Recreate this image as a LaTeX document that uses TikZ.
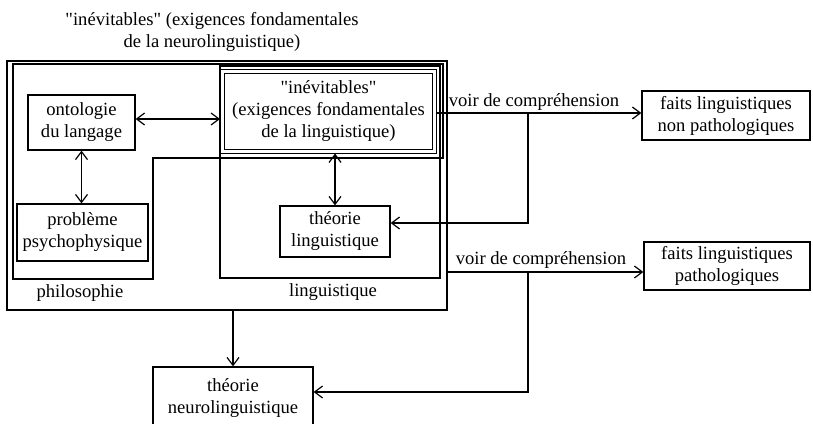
\documentclass[tikz,border=0pt]{standalone}
\usepackage{fontspec}
\setmainfont{Liberation Serif}
\usetikzlibrary{arrows.meta}
\begin{document}
\begin{tikzpicture}[x=1pt,y=-1pt,line width=1.2pt,
	>={Straight Barb[length=8pt,width=12pt]},
	every node/.style={font=\fontsize{18.6}{22}\selectfont,align=center},
	box/.style={draw,inner sep=0pt}]
	\useasboundingbox (0,0) rectangle (813,423);

	\node (titre) at (212,32) {\textquotedbl inévitables\textquotedbl{} (exigences fondamentales\\de la neurolinguistique)};

	\node[box,minimum width=440pt,minimum height=249pt] (neuro) at (227,185.5) {};
	\draw (13,64) -- (443,64) -- (443,158) -- (153,158) -- (153,279) -- (13,279) -- cycle;
	\draw (220,66) rectangle (440,278);
	\node (philo) at (80,293) {philosophie};
	\node (ling) at (333,292) {linguistique};

	\node[box,minimum width=107pt,minimum height=55pt] (onto) at (81.5,122.5) {ontologie\\du langage};
	\node[box,minimum width=131pt,minimum height=57pt] (psycho) at (82.5,232.5) {problème\\psychophysique};
	\node[box,double,double distance=3pt,line width=1pt,outer sep=2.5pt,minimum width=212pt,minimum height=80pt] (inev) at (328.5,111) {\textquotedbl inévitables\textquotedbl\\(exigences fondamentales\\de la linguistique)};
	\node[box,minimum width=110pt,minimum height=51pt] (thling) at (335,231.5) {théorie\\linguistique};
	\node[box,minimum width=168pt,minimum height=49pt] (fnp) at (726,115.5) {faits linguistiques\\non pathologiques};
	\node[box,minimum width=166pt,minimum height=48pt] (fp) at (727,266) {faits linguistiques\\pathologiques};
	\node[box,minimum width=160pt,minimum height=62pt] (thneuro) at (233,398) {théorie\\neurolinguistique};

	\coordinate (v1) at (528,113);
	\coordinate (v2) at (528,272);
	\node (lv1) at (534,102) {voir de compréhension};
	\node (lv2) at (541,260) {voir de compréhension};

	\draw[<->] ([yshift=3.5pt]onto.east) -- ([yshift=3.5pt]onto.east -| inev.west);
	\draw[<->] (onto.south) -- (onto.south |- psycho.north);
	\draw[<->] (thling.north |- inev.south) -- (thling.north);
	\draw[->] (inev.east |- v1) -- (fnp.west |- v1);
	\draw[->] (v1) |- ([yshift=8.5pt]thling.east);
	\draw[->] (neuro.east |- v2) -- (fp.west |- v2);
	\draw[->] (v2) |- ([yshift=6pt]thneuro.east);
	\draw[->] (thneuro.north |- neuro.south) -- (thneuro.north);
\end{tikzpicture}
\end{document}
